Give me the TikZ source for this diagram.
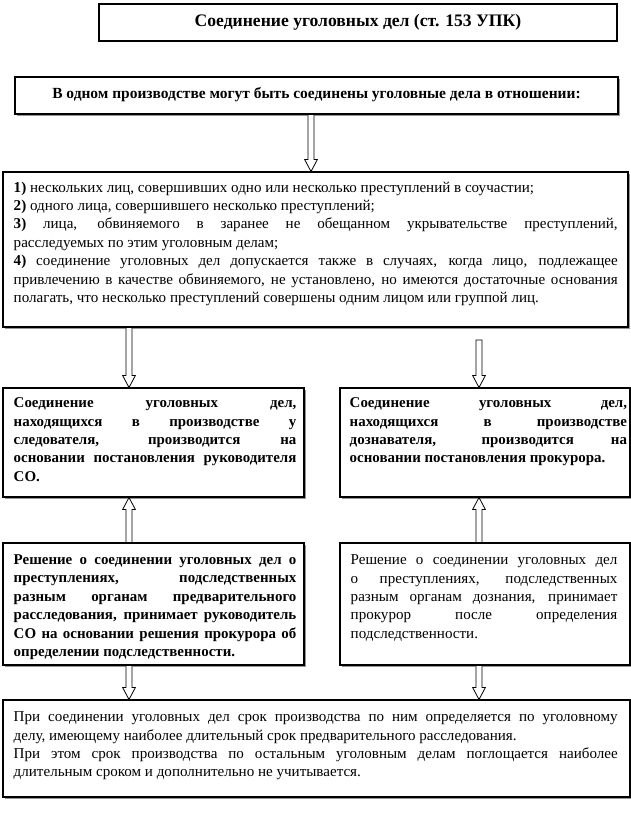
\documentclass[tikz,border=0pt]{standalone}
\usepackage{fontspec}
\setmainfont{Liberation Serif}
\usepackage{xcolor}
\definecolor{myshade}{RGB}{150,150,150}
\usepackage{tikz}
\usetikzlibrary{calc}
\usetikzlibrary{fit}
\usetikzlibrary{shadows}
\tolerance=10000
\hbadness=10000
\newcommand{\BlockArrow}[2]{
\coordinate (tipbase) at ($(#2)!9pt!(#1)$);
\draw[blockarrow] ($(#1)!2.3pt!-90:(#2)$) -- ($(tipbase)!2.3pt!90:(#1)$) -- ($(tipbase)!4.8pt!90:(#1)$) -- (#2)
-- ($(tipbase)!4.8pt!-90:(#1)$) -- ($(tipbase)!2.3pt!-90:(#1)$) -- ($(#1)!2.3pt!90:(#2)$) -- cycle;}

\begin{document}
\begin{tikzpicture}[x=0.75pt,y=-0.75pt,line join=miter]
	\tikzstyle{box}=[draw,line width=0.8pt,fill=white,inner sep=0pt,general shadow={fill=myshade,shadow xshift=1.2pt,shadow yshift=-1.2pt}];
	\tikzstyle{txt}=[inner sep=0pt,anchor=north west,align=justify,font=\fontsize{11.3pt}{13.8pt}\selectfont];
	\tikzstyle{txtb}=[txt,font=\fontsize{11.2pt}{13.8pt}\selectfont\bfseries];
	\tikzstyle{blockarrow}=[draw=black,fill=white,line width=0.6pt];
	\useasboundingbox (0,0) rectangle (631,820);
	\coordinate (colM) at (311,0);
	\coordinate (colL) at (129,0);
	\coordinate (colR) at (479,0);
	\coordinate (gapR) at (479,340);
	%% Boxes
	\node[draw,line width=1.9pt,inner sep=0pt,fit={(99,4) (617,41)}] (title) {};
	\node[box,fit={(15,77) (618,114)}] (decl) {};
	\node[box,fit={(3,172) (628,327)}] (list) {};
	\node[box,fit={(3,388) (304,497)}] (sled) {};
	\node[box,fit={(340,388) (630,497)}] (doz) {};
	\node[box,fit={(3,543) (304,665)}] (reshL) {};
	\node[box,fit={(340,543) (630,665)}] (reshR) {};
	\node[box,fit={(3,700) (630,797)}] (srok) {};
	%% Texts
	\node[font=\fontsize{13.2pt}{16pt}\selectfont\bfseries] (titletext) at (title.center) {Соединение уголовных дел (ст. 153 УПК)};
	\node[font=\fontsize{11.6pt}{13.8pt}\selectfont\bfseries] (decltext) at ([yshift=1pt]decl.center) {В одном производстве могут быть соединены уголовные дела в отношении:};
	\node[txt,text width=453pt] (listtext) at ([shift={(11,10)}]list.north west) {\textbf{1)} нескольких лиц, совершивших одно или несколько преступлений в соучастии;\\
	\textbf{2)} одного лица, совершившего несколько преступлений;\\
	\textbf{3)} лица, обвиняемого в заранее не обещанном укрывательстве преступлений,\linebreak расследуемых по этим уголовным делам;\\
	\textbf{4)} соединение уголовных дел допускается также в случаях, когда лицо, подлежащее\linebreak привлечению в качестве обвиняемого, не установлено, но имеются достаточные основания\linebreak полагать, что несколько преступлений совершены одним лицом или группой лиц.};
	\node[txtb,text width=212pt] (sledtext) at ([shift={(11,10)}]sled.north west) {Соединение уголовных дел,\linebreak находящихся в производстве у\linebreak следователя, производится на\linebreak основании постановления руководителя\linebreak СО.};
	\node[txtb,text width=208pt] (doztext) at ([shift={(10,10)}]doz.north west) {Соединение уголовных дел,\linebreak находящихся в производстве\linebreak дознавателя, производится на\linebreak основании постановления прокурора.};
	\node[txtb,text width=212pt] (reshLtext) at ([shift={(11,12)}]reshL.north west) {Решение о соединении уголовных дел о\linebreak преступлениях, подследственных\linebreak разным органам предварительного\linebreak расследования, принимает руководитель\linebreak СО на основании решения прокурора об\linebreak определении подследственности.};
	\node[txt,text width=200pt] (reshRtext) at ([shift={(11,12)}]reshR.north west) {Решение о соединении уголовных дел\linebreak о преступлениях, подследственных\linebreak разным органам дознания, принимает\linebreak прокурор после определения\linebreak подследственности.};
	\node[txt,text width=453pt] (sroktext) at ([shift={(11,12)}]srok.north west) {При соединении уголовных дел срок производства по ним определяется по уголовному\linebreak делу, имеющему наиболее длительный срок предварительного расследования.\\
	При этом срок производства по остальным уголовным делам поглощается наиболее\linebreak длительным сроком и дополнительно не учитывается.};
	%% Arrows
	\BlockArrow{decl.south -| colM}{list.north -| colM}
	\BlockArrow{list.south -| colL}{sled.north -| colL}
	\BlockArrow{gapR}{doz.north -| colR}
	\BlockArrow{reshL.north -| colL}{sled.south -| colL}
	\BlockArrow{reshR.north -| colR}{doz.south -| colR}
	\BlockArrow{reshL.south -| colL}{srok.north -| colL}
	\BlockArrow{reshR.south -| colR}{srok.north -| colR}
\end{tikzpicture}
\end{document}
